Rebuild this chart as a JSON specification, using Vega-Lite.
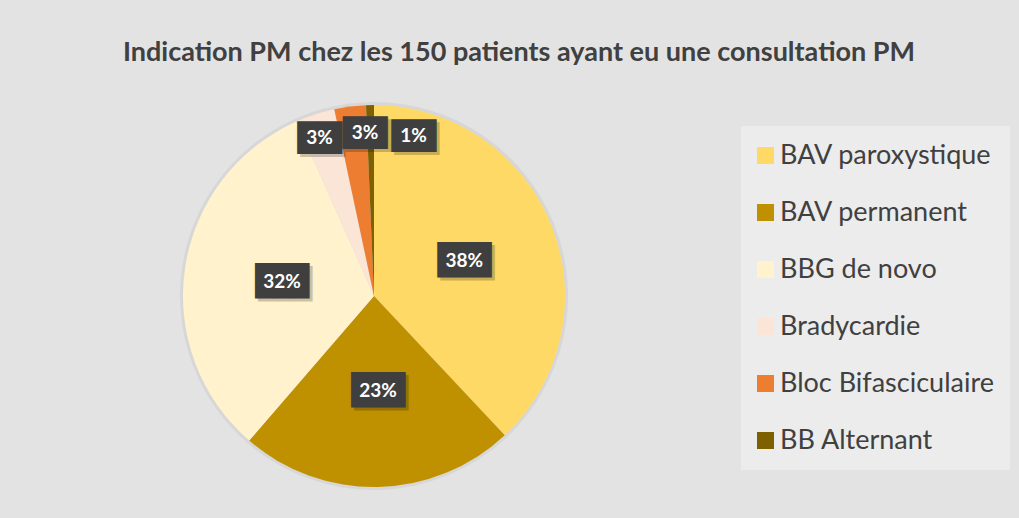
{
  "$schema": "https://vega.github.io/schema/vega-lite/v6.json",
  "width": 748,
  "height": 444,
  "autosize": {"type": "none"},
  "padding": {"left": 0, "top": 74, "right": 271, "bottom": 0},
  "background": "#E3E3E3",
  "config": {"view": {"stroke": null}, "font": "Lato"},
  "title": {
    "text": "Indication PM chez les 150 patients ayant eu une consultation PM",
    "font": "Lato", "fontSize": 27, "fontWeight": "bold", "color": "#404040",
    "anchor": "middle", "dx": 145, "dy": 28, "offset": 14, "baseline": "alphabetic"
  },
  "data": {"values": [
    {"indication": "BAV paroxystique", "n": 57, "ordre": 1},
    {"indication": "BAV permanent", "n": 35, "ordre": 2},
    {"indication": "BBG de novo", "n": 48, "ordre": 3},
    {"indication": "Bradycardie", "n": 5, "ordre": 4},
    {"indication": "Bloc Bifasciculaire", "n": 4, "ordre": 5},
    {"indication": "BB Alternant", "n": 1, "ordre": 6}
  ]},
  "transform": [
    {"joinaggregate": [{"op": "sum", "field": "n", "as": "total"}]},
    {"calculate": "format(datum.n / datum.total, '.0%')", "as": "label"}
  ],
  "encoding": {
    "theta": {"field": "n", "type": "quantitative", "stack": true},
    "order": {"field": "ordre", "type": "quantitative"}
  },
  "layer": [
    {
      "mark": {"type": "arc", "outerRadius": 194, "color": "#000000", "opacity": 0.05}
    },
    {
      "mark": {"type": "arc", "outerRadius": 191},
      "encoding": {
        "color": {
          "field": "indication", "type": "nominal",
          "sort": ["BAV paroxystique", "BAV permanent", "BBG de novo", "Bradycardie", "Bloc Bifasciculaire", "BB Alternant"],
          "scale": {
            "domain": ["BAV paroxystique", "BAV permanent", "BBG de novo", "Bradycardie", "Bloc Bifasciculaire", "BB Alternant"],
            "range": ["#FFD966", "#BF9000", "#FFF2CC", "#FBE5D6", "#ED7D31", "#7F6000"]
          },
          "legend": {
            "orient": "none", "legendX": 741, "legendY": 52, "title": null,
            "symbolType": "square", "symbolSize": 289, "symbolStrokeWidth": 0, "symbolOffset": -5,
            "labelFontSize": 27, "labelFont": "Lato", "labelColor": "#404040",
            "fillColor": "#ECECEC", "padding": 16, "rowPadding": 29, "labelOffset": 1, "labelLimit": 400
          }
        }
      }
    },
    {
      "mark": {"type": "text", "font": "DejaVu Sans Mono", "fontSize": 30, "color": "#000000", "opacity": 0.2, "radius": 95, "dx": 5, "dy": 3, "baseline": "middle"},
      "encoding": {"text": {"condition": {"test": "datum.n >= 10", "value": "███"}, "value": ""}}
    },
    {
      "mark": {"type": "text", "font": "DejaVu Sans Mono", "fontSize": 30, "color": "#3F3F3F", "radius": 95, "dx": 2, "baseline": "middle"},
      "encoding": {"text": {"condition": {"test": "datum.n >= 10", "value": "███"}, "value": ""}}
    },
    {
      "mark": {"type": "text", "font": "Lato", "fontSize": 19, "fontWeight": "bold", "color": "#FFFFFF", "radius": 95, "dx": 2, "baseline": "middle"},
      "encoding": {"text": {"condition": {"test": "datum.n >= 10", "field": "label"}, "value": ""}}
    },
    {
      "mark": {"type": "text", "font": "DejaVu Sans Mono", "fontSize": 37, "color": "#000000", "opacity": 0.2, "radius": 160, "dx": -2, "dy": -7, "baseline": "middle"},
      "encoding": {"text": {"condition": {"test": "datum.indication == 'Bradycardie'", "value": "▆▆"}, "value": ""}}
    },
    {
      "mark": {"type": "text", "font": "DejaVu Sans Mono", "fontSize": 37, "color": "#3F3F3F", "radius": 160, "dx": -5, "dy": -10, "baseline": "middle"},
      "encoding": {"text": {"condition": {"test": "datum.indication == 'Bradycardie'", "value": "▆▆"}, "value": ""}}
    },
    {
      "mark": {"type": "text", "font": "Lato", "fontSize": 19, "fontWeight": "bold", "color": "#FFFFFF", "radius": 160, "dx": -5, "dy": -6, "baseline": "middle"},
      "encoding": {"text": {"condition": {"test": "datum.indication == 'Bradycardie'", "field": "label"}, "value": ""}}
    },
    {
      "mark": {"type": "text", "font": "DejaVu Sans Mono", "fontSize": 37, "color": "#000000", "opacity": 0.2, "radius": 160, "dx": 14, "dy": -5, "baseline": "middle"},
      "encoding": {"text": {"condition": {"test": "datum.indication == 'Bloc Bifasciculaire'", "value": "▆▆"}, "value": ""}}
    },
    {
      "mark": {"type": "text", "font": "DejaVu Sans Mono", "fontSize": 37, "color": "#3F3F3F", "radius": 160, "dx": 11, "dy": -8, "baseline": "middle"},
      "encoding": {"text": {"condition": {"test": "datum.indication == 'Bloc Bifasciculaire'", "value": "▆▆"}, "value": ""}}
    },
    {
      "mark": {"type": "text", "font": "Lato", "fontSize": 19, "fontWeight": "bold", "color": "#FFFFFF", "radius": 160, "dx": 11, "dy": -4, "baseline": "middle"},
      "encoding": {"text": {"condition": {"test": "datum.indication == 'Bloc Bifasciculaire'", "field": "label"}, "value": ""}}
    },
    {
      "mark": {"type": "text", "font": "DejaVu Sans Mono", "fontSize": 37, "color": "#000000", "opacity": 0.2, "radius": 160, "dx": 46, "dy": -1, "baseline": "middle"},
      "encoding": {"text": {"condition": {"test": "datum.indication == 'BB Alternant'", "value": "▆▆"}, "value": ""}}
    },
    {
      "mark": {"type": "text", "font": "DejaVu Sans Mono", "fontSize": 37, "color": "#3F3F3F", "radius": 160, "dx": 43, "dy": -4, "baseline": "middle"},
      "encoding": {"text": {"condition": {"test": "datum.indication == 'BB Alternant'", "value": "▆▆"}, "value": ""}}
    },
    {
      "mark": {"type": "text", "font": "Lato", "fontSize": 19, "fontWeight": "bold", "color": "#FFFFFF", "radius": 160, "dx": 43, "dy": 0, "baseline": "middle"},
      "encoding": {"text": {"condition": {"test": "datum.indication == 'BB Alternant'", "field": "label"}, "value": ""}}
    }
  ]
}
